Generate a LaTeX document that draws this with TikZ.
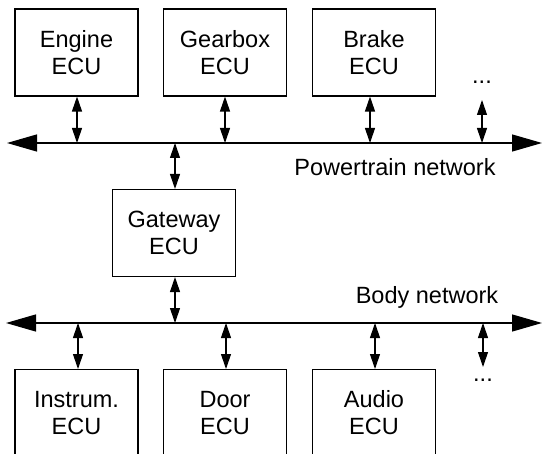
\documentclass[tikz,border=0pt]{standalone}
\usepackage{fontspec}
\setmainfont{Liberation Sans}
\usetikzlibrary{arrows.meta}
\begin{document}
\begin{tikzpicture}[x=1pt,y=-1pt,
  ecu/.style={draw,line width=1.1pt,minimum width=123pt,minimum height=87pt,inner sep=0pt,align=center,font=\fontsize{23.5}{27}\selectfont},
  bus/.style={line width=1.3pt,{Triangle[length=30pt,width=17pt]}-{Triangle[length=30pt,width=17pt]}},
  link/.style={line width=1.1pt,{Triangle[length=15pt,width=10pt]}-{Triangle[length=15pt,width=10pt]}},
  lbl/.style={font=\fontsize{23.5}{27}\selectfont,inner sep=0pt}]
\useasboundingbox (0,0) rectangle (543,454);
\clip (0,0) rectangle (543,454);
% top boxes
\node[ecu] (engine) at (76.5,52.5) {Engine\\ECU};
\node[ecu] (gearbox) at (225,52.5) {Gearbox\\ECU};
\node[ecu] (brake) at (374,52.5) {Brake\\ECU};
\node[lbl] (dots1) at (482,82) {...};
% powertrain bus
\coordinate (pl) at (7,143);
\coordinate (pr) at (542,143);
\draw[bus] (pl) -- (pr);
\node[lbl] (ptn) at (395,167) {Powertrain network};
% gateway
\node[ecu] (gateway) at (174,233) {Gateway\\ECU};
% body bus
\coordinate (bl) at (6,323);
\coordinate (br) at (542,323);
\draw[bus] (bl) -- (br);
\node[lbl] (bn) at (427,297) {Body network};
% bottom boxes
\node[ecu,anchor=north] (instr) at (76.5,369) {Instrum.\\ECU};
\node[ecu,anchor=north] (door) at (225,369) {Door\\ECU};
\node[ecu,anchor=north] (audio) at (374,369) {Audio\\ECU};
\node[lbl] (dots2) at (483,380) {...};
% links
\coordinate (e1) at (77,143);
\coordinate (g1) at (225,143);
\coordinate (b1) at (370,143);
\coordinate (d1a) at (482,100);
\coordinate (d1b) at (482,143);
\coordinate (gw1) at (175,143);
\coordinate (gw2) at (175,323);
\coordinate (i2) at (78,323);
\coordinate (dr2) at (226,323);
\coordinate (a2) at (375,323);
\coordinate (d2a) at (483,323);
\coordinate (d2b) at (483,367);
\draw[link] (engine.south -| e1) -- (e1);
\draw[link] (gearbox.south -| g1) -- (g1);
\draw[link] (brake.south -| b1) -- (b1);
\draw[link] (d1a) -- (d1b);
\draw[link] (gw1) -- (gateway.north -| gw1);
\draw[link] (gateway.south -| gw2) -- (gw2);
\draw[link] (i2) -- (instr.north -| i2);
\draw[link] (dr2) -- (door.north -| dr2);
\draw[link] (a2) -- (audio.north -| a2);
\draw[link] (d2a) -- (d2b);
\end{tikzpicture}
\end{document}
